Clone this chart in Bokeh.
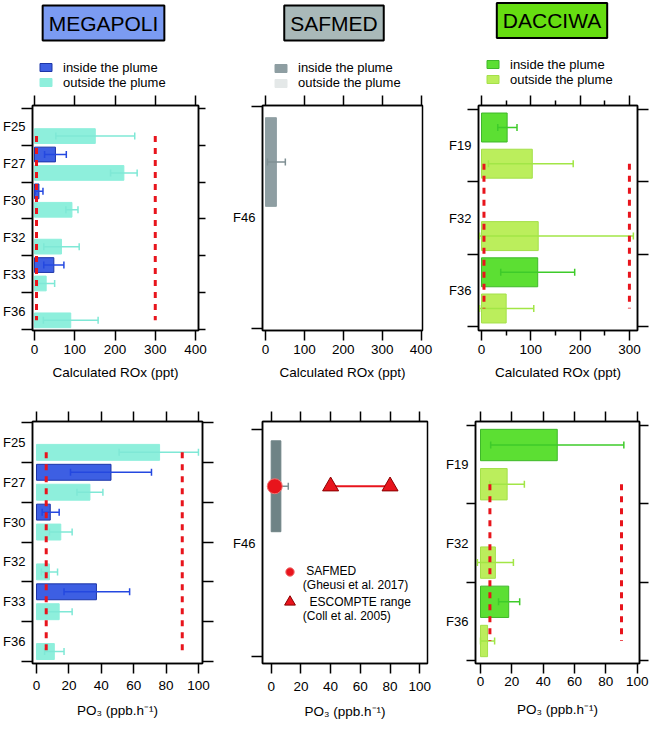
import math
from bokeh.plotting import figure
from bokeh.layouts import column, row
from bokeh.models import (Range1d, LinearAxis, FixedTicker, CustomJSTickFormatter,
                          Label, Legend, LegendItem)
from bokeh.embed import file_html
from bokeh.resources import INLINE

nan = float("nan")
FONT = "Liberation Sans"

# ---------------- data ----------------
meg_flights = ["F25", "F27", "F30", "F32", "F33", "F36"]
meg_rox_in = [nan, 52, 11, nan, 48, nan]
meg_rox_in_lo = [nan, 25, 2, nan, 23, nan]
meg_rox_in_hi = [nan, 79, 21, nan, 73, nan]
meg_rox_out = [151, 222, 93, 67, 29, 90]
meg_rox_out_lo = [53, 189, 78, 23, 8, 22]
meg_rox_out_hi = [249, 255, 108, 111, 50, 158]
meg_po3_in = [nan, 46, 8.5, nan, 37, nan]
meg_po3_in_lo = [nan, 21, 3.5, nan, 17, nan]
meg_po3_in_hi = [nan, 71, 14, nan, 57.5, nan]
meg_po3_out = [76, 33, 15, 8, 14, 11]
meg_po3_out_lo = [51, 25, 8, 3, 6, 5]
meg_po3_out_hi = [100, 41, 22, 13, 22, 17]

saf_flights = ["F46"]
saf_rox_in = [28]
saf_rox_in_lo = [5]
saf_rox_in_hi = [51]
saf_po3_in = [6.5]
saf_po3_in_lo = [1.5]
saf_po3_in_hi = [11.5]
saf_gheusi_po3 = [2.4]
escompte_range = [40, 80]

dac_flights = ["F19", "F32", "F36"]
dac_rox_in = [52, nan, 114]
dac_rox_in_lo = [33, nan, 39]
dac_rox_in_hi = [72, nan, 189]
dac_rox_out = [103, 115, 50]
dac_rox_out_lo = [14, -4, -4]
dac_rox_out_hi = [186, 308, 106]
dac_po3_in = [49, nan, 18]
dac_po3_in_lo = [6.5, nan, 11.5]
dac_po3_in_hi = [91.5, nan, 25]
dac_po3_out = [17, 9.5, 4.5]
dac_po3_out_lo = [6, -2, 0]
dac_po3_out_hi = [28, 21, 9]

rox_thresholds = [5, 300]
po3_thresholds = [6, 90]

rox_ticks_400 = [0, 100, 200, 300, 400]
rox_ticks_300 = [0, 100, 200, 300]
rox_minor_300 = [50, 150, 250]
po3_ticks = [0, 20, 40, 60, 80, 100]

ROX_LABEL = "Calculated ROx (ppt)"
PO3_LABEL = "PO\u2083 (ppb.h\u207b\u00b9)"

# ---------------- styles ----------------
RED = "#e8141c"
MEG_IN, MEG_IN_LINE, MEG_IN_ERR = "#3d5fe3", "#1d36a8", "#2448e0"
MEG_OUT, MEG_OUT_ERR = "#8eefdc", "#7fe8d6"
SAF_IN_TOP, SAF_IN_BOT, SAF_OUT, SAF_ERR = "#8e9ea2", "#6f8386", "#e4e8e8", "#7f8f93"
DAC_IN, DAC_IN_LINE, DAC_IN_ERR = "#5cdf33", "#3fb82a", "#3ecb2a"
DAC_OUT, DAC_OUT_LINE, DAC_OUT_ERR = "#bbee5c", "#a4e04a", "#a2e646"

BLANK = CustomJSTickFormatter(code="return '';")


def panel(flights, width, height, bl, br, bt, bb, x_start, x_end, pad_top, pad_bot,
          xticks, xminor, xlabel, left_tick, right_tick, lab_std, axl_std):
    n = len(flights)
    p = figure(width=width, height=height, title=None,
               x_range=Range1d(x_start, x_end), y_range=Range1d(n + pad_bot, -pad_top),
               x_axis_type=None, y_axis_type=None, toolbar_location=None,
               output_backend="svg", min_border_left=bl, min_border_right=br,
               min_border_top=bt, min_border_bottom=bb)
    p.outline_line_color = "black"
    p.outline_line_width = 1.5
    centers = [i + 0.5 for i in range(n)]
    bounds = list(range(n + 1))
    left = LinearAxis(
        ticker=FixedTicker(ticks=centers, minor_ticks=bounds),
        formatter=CustomJSTickFormatter(
            args=dict(labels=flights),
            code="const i = Math.floor(tick); return (i >= 0 && i < labels.length) ? labels[i] : '';"),
        major_tick_out=0, major_tick_in=0, minor_tick_out=left_tick, minor_tick_in=0,
        minor_tick_line_width=1.5, axis_line_width=1.5, major_label_standoff=7 - left_tick,
        major_label_text_font=FONT, major_label_text_font_size="13px",
        major_label_text_color="black")
    p.add_layout(left, "left")
    if right_tick > 0:
        right = LinearAxis(ticker=FixedTicker(ticks=bounds), formatter=BLANK,
                           major_tick_out=right_tick, major_tick_in=0, major_tick_line_width=1.5,
                           axis_line_width=1.5, major_label_standoff=0,
                           major_label_text_font_size="1px")
        p.add_layout(right, "right")
    top = LinearAxis(ticker=FixedTicker(ticks=xticks, minor_ticks=xminor), formatter=BLANK,
                     major_tick_out=10, major_tick_in=0, minor_tick_out=5, minor_tick_in=0,
                     major_tick_line_width=1.5, minor_tick_line_width=1.5, axis_line_width=1.5,
                     major_label_standoff=0, major_label_text_font_size="1px")
    p.add_layout(top, "above")
    bottom = LinearAxis(ticker=FixedTicker(ticks=xticks, minor_ticks=xminor),
                        major_tick_out=10, major_tick_in=0, minor_tick_out=5, minor_tick_in=0,
                        major_tick_line_width=1.5, minor_tick_line_width=1.5, axis_line_width=1.5,
                        major_label_standoff=lab_std, major_label_text_font=FONT,
                        major_label_text_font_size="13.5px", major_label_text_color="black",
                        axis_label=xlabel, axis_label_standoff=axl_std, axis_label_text_font=FONT,
                        axis_label_text_font_size="13.5px", axis_label_text_font_style="normal",
                        axis_label_text_color="black")
    p.add_layout(bottom, "below")
    return p


def bars(p, vals, lo, hi, offset, fill, line, err):
    idx = [i for i, v in enumerate(vals) if not math.isnan(v)]
    y = [i + offset for i in idx]
    p.hbar(y=y, left=0, right=[vals[i] for i in idx], height=0.4,
           fill_color=fill, line_color=line, line_width=1)
    p.segment(x0=[lo[i] for i in idx], x1=[hi[i] for i in idx], y0=y, y1=y,
              line_color=err, line_width=1.5)
    p.scatter(x=[lo[i] for i in idx] + [hi[i] for i in idx], y=y + y, marker="dash",
              angle=math.pi / 2, size=7, line_color=err, line_width=1.5)


def thresholds(p, n, xs):
    p.segment(x0=xs, x1=xs, y0=[0.75] * len(xs), y1=[n - 0.25] * len(xs),
              line_color=RED, line_width=3, line_dash="6 6")


HEADER_H = 90


def header(width, title, fill, tx, ty, lx, lvy, cin, cin_line, cout, cout_line, std):
    h = figure(width=width, height=HEADER_H, title=None, x_range=Range1d(0, width),
               y_range=Range1d(HEADER_H, 0), x_axis_type=None, y_axis_type=None,
               toolbar_location=None, output_backend="svg", min_border=0,
               outline_line_color=None)
    h.add_layout(Label(x=tx, y=ty, text=title, text_align="center", text_baseline="middle",
                       text_font=FONT, text_font_size="21px", text_color="black",
                       background_fill_color=fill, border_line_color="black",
                       border_line_width=2, padding=6))
    # legend keys only (no visible data in the header)
    r1 = h.quad(left=[nan], right=[nan], top=[nan], bottom=[nan], fill_color=cin, line_color=cin_line)
    r2 = h.quad(left=[nan], right=[nan], top=[nan], bottom=[nan], fill_color=cout, line_color=cout_line)
    leg = Legend(items=[LegendItem(label="inside the plume", renderers=[r1]),
                        LegendItem(label="outside the plume", renderers=[r2])],
                 location=(lx, lvy), orientation="vertical", glyph_width=15, glyph_height=10,
                 label_height=15, label_standoff=std, spacing=0, padding=0, margin=0,
                 border_line_color=None, background_fill_alpha=0,
                 label_text_font=FONT, label_text_font_size="13px", label_text_color="black")
    h.add_layout(leg)
    return h


W1, W2, W3 = 226, 214, 210

# ---------------- headers ----------------
h1 = header(W1, "MEGAPOLI", "#7b9bf2", 103, 22.5, 38, 0.5,
            MEG_IN, MEG_IN_LINE, MEG_OUT, MEG_OUT, 10)
h2 = header(W2, "SAFMED", "#a9b9b9", 107.5, 22.5, 47, 0,
            SAF_IN_TOP, SAF_IN_TOP, SAF_OUT, SAF_OUT, 10)
h3 = header(W3, "DACCIWA", "#66dd11", 111.5, 20, 45, 3.5,
            DAC_IN, DAC_IN_LINE, DAC_OUT, DAC_OUT_LINE, 10)

# ---------------- top row (ROx) ----------------
TOP_H = 302
tl = panel(meg_flights, W1, TOP_H, 32, 28, 15, 56, -5, 407.4, 0.08, 0.026,
           rox_ticks_400, [], ROX_LABEL, 11, 7, 4, 8)
bars(tl, meg_rox_in, meg_rox_in_lo, meg_rox_in_hi, 0.25, MEG_IN, MEG_IN_LINE, MEG_IN_ERR)
bars(tl, meg_rox_out, meg_rox_out_lo, meg_rox_out_hi, 0.75, MEG_OUT, MEG_OUT, MEG_OUT_ERR)
thresholds(tl, len(meg_flights), rox_thresholds)

tm = panel(saf_flights, W2, TOP_H, 36, 18, 15, 62, -7.7, 403.6, 0.005, 0.01,
           rox_ticks_400, [], ROX_LABEL, 11, 0, 4, 8)
bars(tm, saf_rox_in, saf_rox_in_lo, saf_rox_in_hi, 0.25, SAF_IN_TOP, SAF_IN_TOP, SAF_ERR)

tr = panel(dac_flights, W3, TOP_H, 38, 13, 12, 60, -6.1, 316.4, 0.054, 0.054,
           rox_ticks_300, rox_minor_300, ROX_LABEL, 11, 11, 4, 8)
bars(tr, dac_rox_in, dac_rox_in_lo, dac_rox_in_hi, 0.25, DAC_IN, DAC_IN_LINE, DAC_IN_ERR)
bars(tr, dac_rox_out, dac_rox_out_lo, dac_rox_out_hi, 0.75, DAC_OUT, DAC_OUT_LINE, DAC_OUT_ERR)
thresholds(tr, len(dac_flights), rox_thresholds)

# ---------------- bottom row (PO3) ----------------
BOT_H = 335
bl_ = panel(meg_flights, W1, BOT_H, 32, 24, 29, 59, -2.47, 102.5, 0.025, 0.05,
            po3_ticks, [], PO3_LABEL, 11, 11, 7, 10)
bars(bl_, meg_po3_in, meg_po3_in_lo, meg_po3_in_hi, 0.25, MEG_IN, MEG_IN_LINE, MEG_IN_ERR)
bars(bl_, meg_po3_out, meg_po3_out_lo, meg_po3_out_hi, 0.75, MEG_OUT, MEG_OUT, MEG_OUT_ERR)
thresholds(bl_, len(meg_flights), po3_thresholds)

bm = panel(saf_flights, W2, BOT_H, 36, 13, 22, 61, -5.85, 105.2, 0.035, 0.03,
           po3_ticks, [], PO3_LABEL, 11, 0, 8, 10)
bars(bm, saf_po3_in, saf_po3_in_lo, saf_po3_in_hi, 0.25, SAF_IN_BOT, SAF_IN_BOT, SAF_ERR)
r_circ = bm.scatter(x=saf_gheusi_po3, y=[0.25] * len(saf_gheusi_po3), marker="circle", size=15,
                    fill_color=RED, line_color="#f07070", line_width=1)
bm.line(x=escompte_range, y=[0.25] * len(escompte_range), line_color=RED, line_width=2)
r_tri = bm.scatter(x=escompte_range, y=[0.25] * len(escompte_range), marker="triangle", size=16,
                   fill_color=RED, line_color="#8a0000", line_width=1)
leg_a = Legend(items=[LegendItem(label="\n SAFMED\n(Gheusi et al. 2017)", renderers=[r_circ])],
               location=(16.8, 71), glyph_width=21, glyph_height=21, label_standoff=3,
               spacing=0, padding=0, margin=0, border_line_color=None, background_fill_alpha=0,
               label_text_font=FONT, label_text_font_size="12px", label_text_color="black")
leg_b = Legend(items=[LegendItem(label="\n  ESCOMPTE range\n(Coll et al. 2005)", renderers=[r_tri])],
               location=(13.8, 40.3), glyph_width=27, glyph_height=27, label_standoff=0,
               spacing=0, padding=0, margin=0, border_line_color=None, background_fill_alpha=0,
               label_text_font=FONT, label_text_font_size="12px", label_text_color="black")
bm.add_layout(leg_a)
bm.add_layout(leg_b)

br = panel(dac_flights, W3, BOT_H, 35, 11, 23, 64, -3.2, 101.5, 0.05, 0.037,
           po3_ticks, [], PO3_LABEL, 9, 9, 3, 13)
bars(br, dac_po3_in, dac_po3_in_lo, dac_po3_in_hi, 0.25, DAC_IN, DAC_IN_LINE, DAC_IN_ERR)
bars(br, dac_po3_out, dac_po3_out_lo, dac_po3_out_hi, 0.75, DAC_OUT, DAC_OUT_LINE, DAC_OUT_ERR)
thresholds(br, len(dac_flights), po3_thresholds)

layout = column(row(h1, h2, h3), row(tl, tm, tr), row(bl_, bm, br))

open("out.html", "w").write(file_html(layout, INLINE, title="ROx and PO3"))
